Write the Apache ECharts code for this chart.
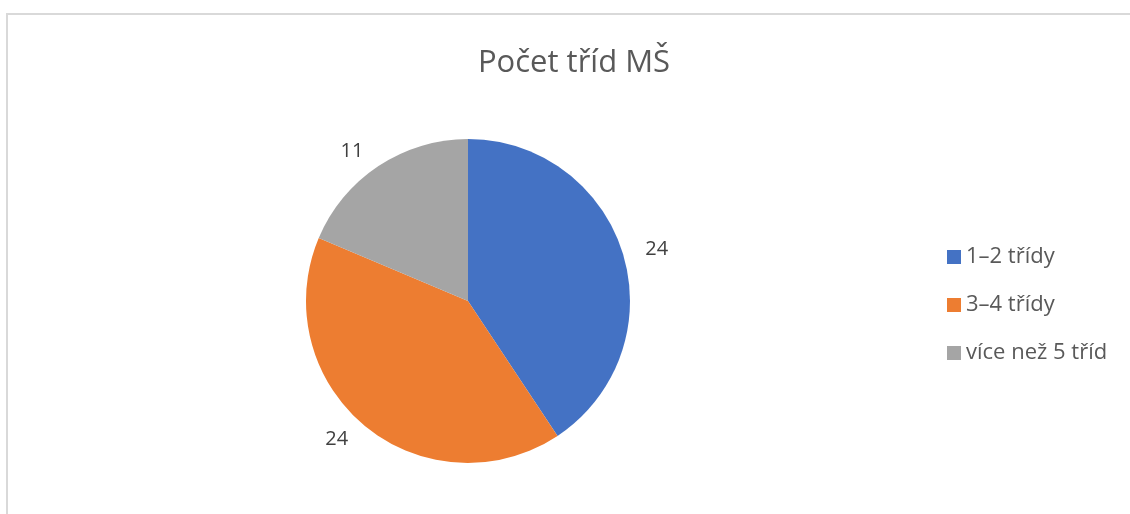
<!DOCTYPE html>
<html>
<head>
<meta charset="utf-8">
<script src="https://cdn.jsdelivr.net/npm/echarts@6/dist/echarts.min.js"></script>
<style>
  html, body { margin: 0; padding: 0; background: #fff; }
  #frame {
    position: absolute; left: 6px; top: 13px; width: 1124px; height: 501px;
    border-left: 2px solid #d9d9d9; border-top: 2px solid #d9d9d9;
  }
  #main { position: absolute; left: 0; top: 0; width: 1130px; height: 514px; }
</style>
</head>
<body>
<div id="frame"></div>
<div id="main"></div>
<script>
var categories = ["1\u20132 t\u0159\u00eddy", "3\u20134 t\u0159\u00eddy", "v\u00edce ne\u017e 5 t\u0159\u00edd"];
var values = [24, 24, 11];
var colors = ["#4472C4", "#ED7D31", "#A5A5A5"];

var chart = echarts.init(document.getElementById("main"));
var option = {
  animation: false,
  title: {
    text: "Po\u010det t\u0159\u00edd M\u0160",
    left: 569,
    top: 43,
    textAlign: "center",
    textStyle: {
      fontFamily: "Open Sans",
      fontSize: 31,
      fontWeight: "normal",
      color: "#595959"
    }
  },
  legend: {
    orient: "vertical",
    left: 942,
    top: 241,
    itemWidth: 14,
    itemHeight: 14,
    itemGap: 26,
    icon: "rect",
    data: categories,
    textStyle: {
      fontFamily: "Open Sans",
      fontSize: 22,
      color: "#595959"
    }
  },
  series: [
    {
      type: "pie",
      center: [468, 301],
      radius: 162,
      startAngle: 90,
      clockwise: true,
      silent: true,
      label: {
        show: true,
        position: "outside",
        formatter: "{c}",
        fontFamily: "Open Sans",
        fontSize: 20,
        color: "#404040"
      },
      labelLine: { show: false, length: 18, length2: 0 },
      data: categories.map(function (name, i) {
        return { name: name, value: values[i], itemStyle: { color: colors[i] } };
      })
    }
  ]
};
chart.setOption(option);
</script>
</body>
</html>
